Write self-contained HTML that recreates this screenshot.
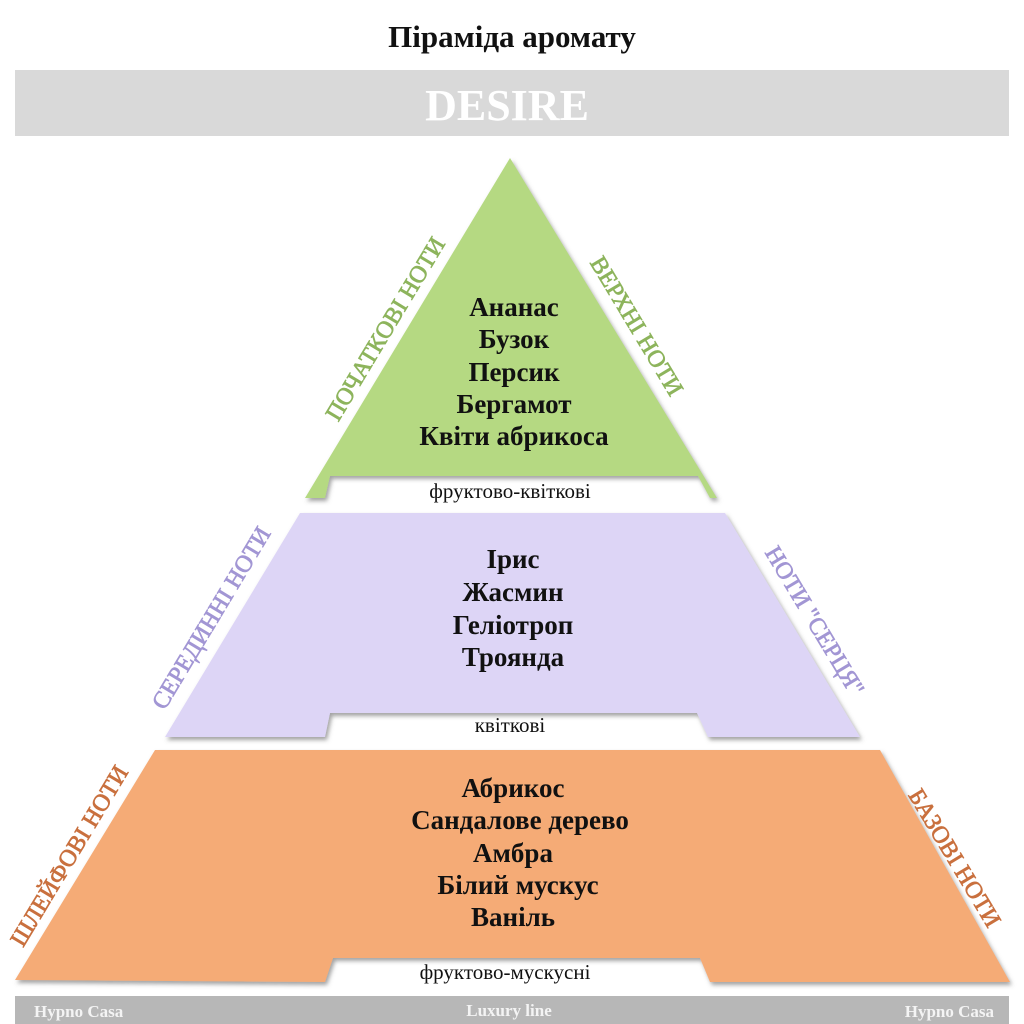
<!DOCTYPE html>
<html><head><meta charset="utf-8"><style>
html,body{margin:0;padding:0;background:#fff;width:1024px;height:1024px;overflow:hidden}
</style></head><body>
<svg width="1024" height="1024" viewBox="0 0 1024 1024" xmlns="http://www.w3.org/2000/svg" font-family="'Liberation Serif', serif">
<defs>
<filter id="sh" x="-5%" y="-5%" width="110%" height="115%"><feDropShadow dx="2" dy="3" stdDeviation="2" flood-color="#555" flood-opacity="0.55"/></filter>
</defs>
<rect width="1024" height="1024" fill="#fff"/>
<text x="512" y="47" text-anchor="middle" font-size="31" font-weight="bold" fill="#111">Піраміда аромату</text>
<rect x="15" y="70" width="994" height="66" fill="#d9d9d9"/>
<text x="507" y="120" text-anchor="middle" font-size="44" font-weight="bold" fill="#fff">DESIRE</text>

<path d="M510 158 L717 498 L710 498 L698 476 L330 476 L325 498 L305 498 Z" fill="#b5d982" filter="url(#sh)"/>
<path d="M300 513 L725 513 L860 737 L708 737 L697 713 L330 713 L325 737 L165 737 Z" fill="#ddd5f6" filter="url(#sh)"/>
<path d="M155 750 L880 750 L1010 982 L710 982 L700 958 L333 958 L325 982 L15 980 Z" fill="#f5ab76" filter="url(#sh)"/>

<g font-size="27" font-weight="bold" fill="#111" text-anchor="middle">
<text x="514" y="316">Ананас</text>
<text x="514" y="348">Бузок</text>
<text x="514" y="381">Персик</text>
<text x="514" y="413">Бергамот</text>
<text x="514" y="445">Квіти абрикоса</text>
<text x="513" y="568">Ірис</text>
<text x="513" y="601">Жасмин</text>
<text x="513" y="634">Геліотроп</text>
<text x="513" y="666">Троянда</text>
<text x="513" y="797">Абрикос</text>
<text x="520" y="829">Сандалове дерево</text>
<text x="513" y="862">Амбра</text>
<text x="518" y="894">Білий мускус</text>
<text x="513" y="926">Ваніль</text>
</g>
<g font-size="21" fill="#111" text-anchor="middle">
<text x="510" y="498">фруктово-квіткові</text>
<text x="510" y="732">квіткові</text>
<text x="505" y="979">фруктово-мускусні</text>
</g>

<g font-size="24" text-anchor="middle" stroke-width="0.7">
<text transform="translate(392,333) rotate(-59)" fill="#8db45c" stroke="#8db45c">ПОЧАТКОВІ НОТИ</text>
<text transform="translate(630,330) rotate(59)" fill="#8db45c" stroke="#8db45c">ВЕРХНІ НОТИ</text>
<text transform="translate(218,622) rotate(-59)" fill="#a296d4" stroke="#a296d4">СЕРЕДИННІ НОТИ</text>
<text transform="translate(808,625) rotate(59)" fill="#a296d4" stroke="#a296d4">НОТИ "СЕРЦЯ"</text>
<text transform="translate(76,860) rotate(-59)" fill="#c9703e" stroke="#c9703e">ШЛЕЙФОВІ НОТИ</text>
<text transform="translate(948,862) rotate(59)" fill="#c9703e" stroke="#c9703e">БАЗОВІ НОТИ</text>
</g>

<rect x="15" y="996" width="994" height="28" fill="#b7b7b7"/>
<g font-size="17" font-weight="bold" fill="#f4f4f4">
<text x="34" y="1017">Hypno Casa</text>
<text x="509" y="1016" text-anchor="middle">Luxury line</text>
<text x="994" y="1017" text-anchor="end">Hypno Casa</text>
</g>
</svg>
</body></html>
